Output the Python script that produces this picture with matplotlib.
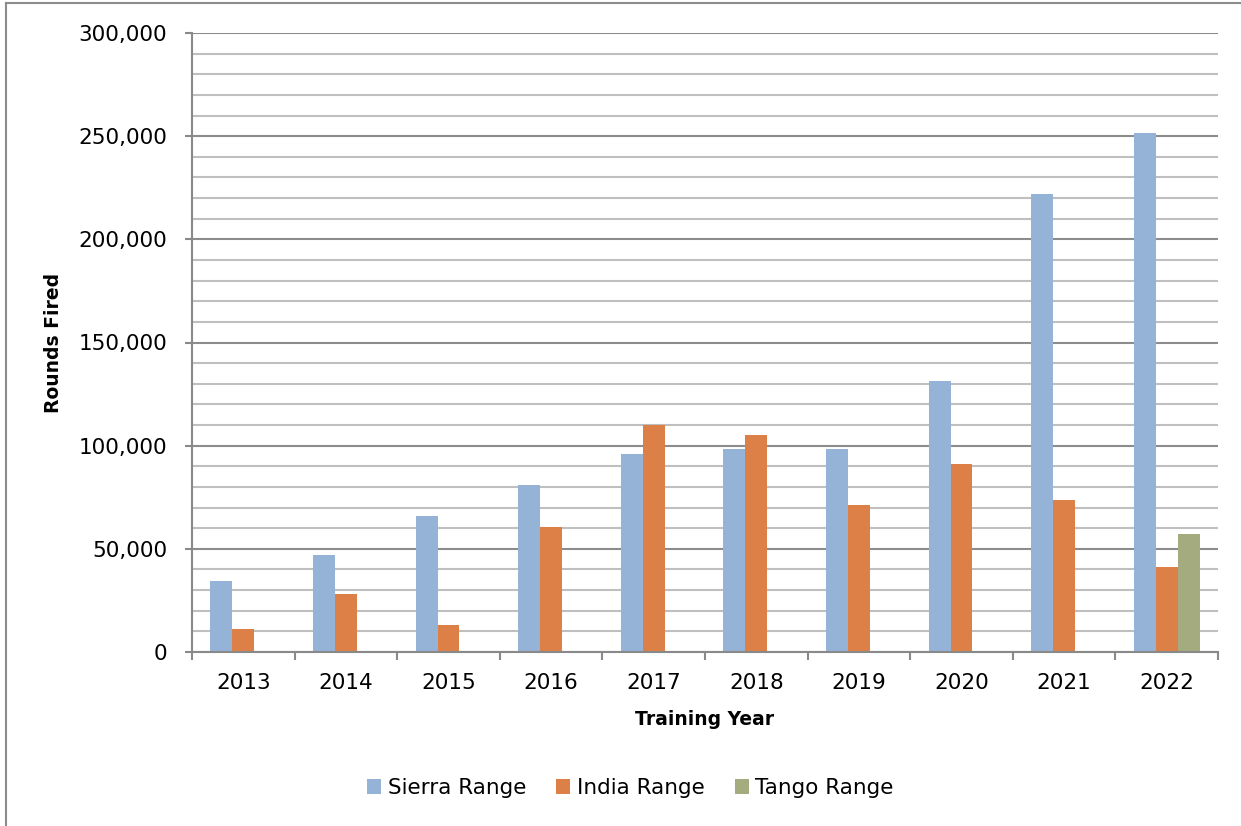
import matplotlib
matplotlib.use("Agg")
import matplotlib.pyplot as plt
from matplotlib.lines import Line2D
from matplotlib.ticker import MultipleLocator, FuncFormatter, FixedLocator
import numpy as np

years = ["2013", "2014", "2015", "2016", "2017", "2018", "2019", "2020", "2021", "2022"]
sierra = [34500, 47000, 66000, 81000, 96000, 98500, 98500, 131300, 222000, 251500]
india = [11000, 28000, 13000, 60500, 110000, 105300, 71200, 91000, 73500, 41000]
tango = [0, 0, 0, 0, 0, 0, 0, 0, 0, 57000]
series_names = ["Sierra Range", "India Range", "Tango Range"]
colors = ["#95B3D7", "#DD8047", "#A4AB7F"]

plt.rcParams['font.family'] = ['DejaVu Sans']

fig = plt.figure(figsize=(12.41, 8.26), dpi=100)
ax = fig.add_axes([192/1241, 1-652/826, (1218-192)/1241, (652-33)/826])

x = np.arange(len(years))
w = 0.2144
for i, (vals, name, c) in enumerate(zip([sierra, india, tango], series_names, colors)):
    ax.bar(x + (i - 1) * w, vals, width=w, color=c, label=name, zorder=3, linewidth=0)

ax.set_xlim(-0.5, len(years) - 0.5)
ax.set_ylim(0, 300000)

ax.yaxis.set_major_locator(MultipleLocator(50000))
ax.yaxis.set_minor_locator(MultipleLocator(10000))
ax.yaxis.set_major_formatter(FuncFormatter(lambda v, p: f"{int(v):,}"))
ax.grid(which='minor', axis='y', color='#BFBFBF', linewidth=1.5, zorder=1)
ax.grid(which='major', axis='y', color='#8C8C8C', linewidth=1.5, zorder=2)

ax.set_xticks(x)
ax.set_xticklabels(years)
ax.xaxis.set_minor_locator(FixedLocator(np.arange(-0.5, len(years), 1.0)))
ax.tick_params(axis='x', which='major', length=0, pad=15, labelsize=15.5)
ax.tick_params(axis='x', which='minor', length=6, width=1.5, color='#898989', direction='out')
ax.tick_params(axis='y', which='major', length=5, width=1.5, color='#898989', pad=13, labelsize=15.5)
ax.tick_params(axis='y', which='minor', length=0)

for s in ['right', 'top']:
    ax.spines[s].set_visible(False)
for s in ['left', 'bottom']:
    ax.spines[s].set_color('#898989')
    ax.spines[s].set_linewidth(1.5)
    ax.spines[s].set_zorder(4)

ax.set_xlabel("Training Year", fontsize=13.5, fontweight='bold')
ax.set_ylabel("Rounds Fired", fontsize=13.5, fontweight='bold')
ax.yaxis.set_label_coords(-(192-63)/1026, 0.5)
ax.xaxis.set_label_coords(0.5, -(710-652)/619)

leg = fig.legend(loc='center', bbox_to_anchor=(0.508, 1-788/826), ncol=3, frameon=False,
                 fontsize=15.5, handlelength=0.65, handleheight=0.65, handletextpad=0.3,
                 columnspacing=1.4)

# outer border (left and top)
fig.add_artist(Line2D([5.5/1241, 5.5/1241], [0, 1-3/826], transform=fig.transFigure, color='#8C8C8C', linewidth=1.5))
fig.add_artist(Line2D([5.5/1241, 1], [1-3/826, 1-3/826], transform=fig.transFigure, color='#8C8C8C', linewidth=1.5))

fig.savefig("out.png", dpi=100)
